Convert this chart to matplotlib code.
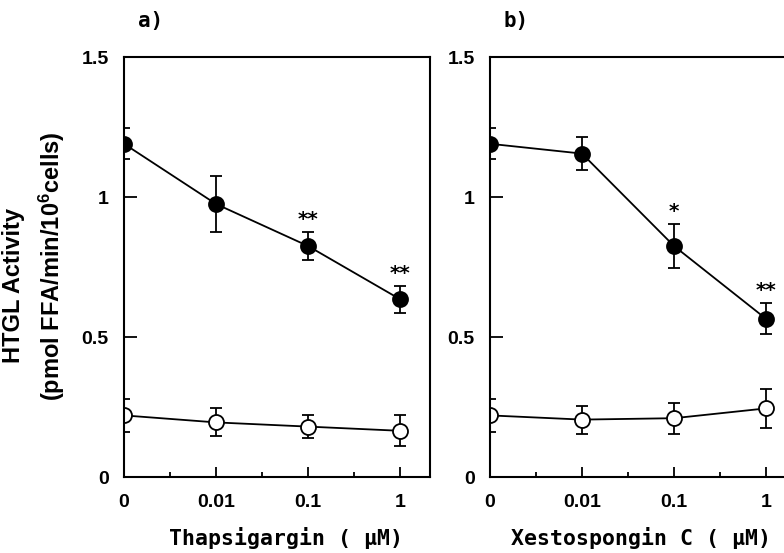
import matplotlib
matplotlib.use("Agg")
import matplotlib.pyplot as plt
from matplotlib.ticker import FixedLocator

# Concentrations (categorical positions on the x axis)
conc_labels = ["0", "0.01", "0.1", "1"]

# a) Thapsigargin
thaps_treated = [1.19, 0.975, 0.825, 0.635]
thaps_treated_err = [0.055, 0.10, 0.05, 0.048]
thaps_control = [0.22, 0.195, 0.18, 0.165]
thaps_control_err = [0.06, 0.05, 0.04, 0.055]
thaps_marks = ["", "", "**", "**"]

# b) Xestospongin C
xesto_treated = [1.19, 1.155, 0.825, 0.565]
xesto_treated_err = [0.055, 0.06, 0.08, 0.055]
xesto_control = [0.22, 0.205, 0.21, 0.245]
xesto_control_err = [0.06, 0.05, 0.055, 0.07]
xesto_marks = ["", "", "*", "**"]

y_ticks = [0, 0.5, 1, 1.5]
y_tick_labels = ["0", "0.5", "1", "1.5"]

plt.rcParams['font.family'] = ['Liberation Sans', 'DejaVu Sans']
plt.rcParams['font.weight'] = 'bold'
plt.rcParams['mathtext.fontset'] = 'custom'
plt.rcParams['mathtext.bf'] = 'Liberation Sans:bold'
plt.rcParams['mathtext.rm'] = 'Liberation Sans:bold'
plt.rcParams['mathtext.default'] = 'bf'

MONO = ['DejaVu Sans Mono', 'DejaVu Sans']

W, H = 784, 553
fig = plt.figure(figsize=(W / 100, H / 100), dpi=100)
ax_a = fig.add_axes([124 / W, 1 - 477 / H, 306 / W, 420 / H])
ax_b = fig.add_axes([490 / W, 1 - 477 / H, 306 / W, 420 / H])


def draw_panel(ax, treated, treated_err, control, control_err, marks,
               xlabel, tag, xlabel_x):
    x = list(range(len(conc_labels)))
    common = dict(fmt='-o', color='black', mec='black', ms=10.8, mew=1.3,
                  lw=1.3, elinewidth=1.3, capsize=4.3, capthick=1.3)
    ax.errorbar(x, control, yerr=control_err, mfc='white', **common)
    ax.errorbar(x, treated, yerr=treated_err, mfc='black', **common)

    for xi, v, e, m in zip(x, treated, treated_err, marks):
        if m:
            ax.annotate(m, (xi, v + e), xytext=(0, 9), textcoords='offset points',
                        ha='center', va='center', fontsize=14.5,
                        fontweight='bold', family='DejaVu Sans')

    ax.set_xlim(0, 3.326)
    ax.set_ylim(0, 1.5)
    ax.set_xticks(x)
    ax.set_xticklabels(conc_labels)
    ax.xaxis.set_minor_locator(FixedLocator([0.5, 1.5, 2.5]))
    ax.set_yticks(y_ticks)
    ax.set_yticklabels(y_tick_labels)
    ax.tick_params(axis='x', which='major', direction='in', length=7,
                   width=1.3, pad=12, labelsize=14)
    ax.tick_params(axis='x', which='minor', direction='in', length=3.5,
                   width=1.3)
    ax.tick_params(axis='y', which='major', direction='in', length=9,
                   width=1.3, pad=11, labelsize=14)
    for s in ax.spines.values():
        s.set_linewidth(1.5)

    ax.text(xlabel_x, -0.145, xlabel, transform=ax.transAxes, ha='center',
            va='center', fontsize=15.5, fontweight='bold', family=MONO)
    ax.text(0.045, 1.085, tag, transform=ax.transAxes, ha='left',
            va='center', fontsize=15, fontweight='bold', family=MONO)


draw_panel(ax_a, thaps_treated, thaps_treated_err, thaps_control,
           thaps_control_err, thaps_marks, "Thapsigargin ( \u03bcM)", "a)", 0.53)
draw_panel(ax_b, xesto_treated, xesto_treated_err, xesto_control,
           xesto_control_err, xesto_marks, "Xestospongin C ( \u03bcM)", "b)", 0.493)

# Two-line y-axis title on the left panel
ax_a.text(-0.36, 0.455, "HTGL Activity", transform=ax_a.transAxes,
          rotation=90, ha='center', va='center', fontsize=17, fontweight='bold')
ax_a.text(-0.235, 0.502, "(pmol FFA/min/10$^{6}$cells)", transform=ax_a.transAxes,
          rotation=90, ha='center', va='center', fontsize=17, fontweight='bold')

fig.savefig("out.png", dpi=100)
